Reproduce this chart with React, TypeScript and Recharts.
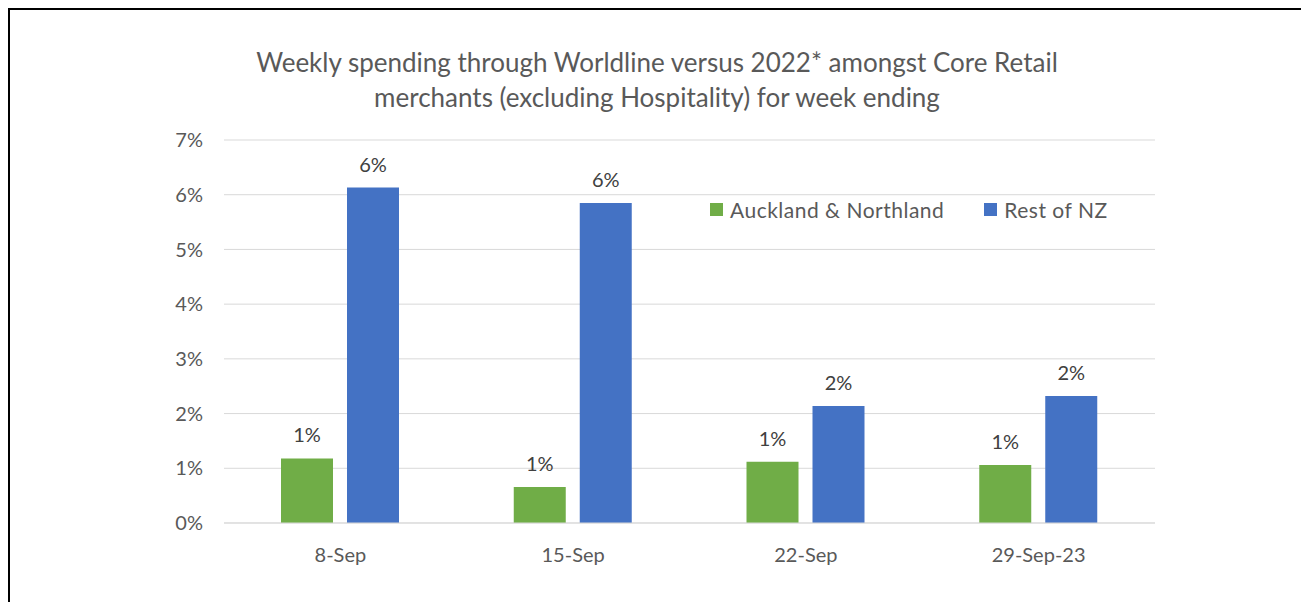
import { Bar, BarChart, CartesianGrid, LabelList, XAxis, YAxis } from 'recharts';

const weeks = ['8-Sep', '15-Sep', '22-Sep', '29-Sep-23'];
const auckland = [1.18, 0.66, 1.12, 1.06];
const restOfNz = [6.13, 5.85, 2.14, 2.32];
const yTicks = [0, 1, 2, 3, 4, 5, 6, 7];

const GREEN = '#70AD47';
const BLUE = '#4472C4';
const TEXT = '#595959';
const FONT = 'Lato, "Open Sans", sans-serif';

const data = weeks.map((w, i) => ({ week: w, auckland: auckland[i], rest: restOfNz[i] }));

const pct = (v: unknown) => `${Math.round(Number(v))}%`;

// legend sits inside the plot, so it is drawn outside recharts' layout
function LegendBox() {
  const items = [
    { name: 'Auckland & Northland', color: GREEN },
    { name: 'Rest of NZ', color: BLUE },
  ];
  return (
    <div
      style={{
        position: 'absolute',
        top: 187,
        left: 700,
        display: 'flex',
        gap: 40,
        fontFamily: FONT,
        fontSize: 21,
        letterSpacing: 0.5,
        color: TEXT,
      }}
    >
      {items.map((it) => (
        <div key={it.name} style={{ display: 'flex', alignItems: 'center', gap: 7 }}>
          <span style={{ width: 13, height: 13, background: it.color, display: 'inline-block' }} />
          <span>{it.name}</span>
        </div>
      ))}
    </div>
  );
}

export default function App() {
  return (
    <div
      style={{
        position: 'relative',
        width: 1296,
        height: 600,
        borderTop: '2px solid #000',
        borderLeft: '2px solid #000',
        borderRight: '2px solid #000',
        background: '#fff',
      }}
    >
      <div
        style={{
          position: 'absolute',
          top: 35,
          left: 0,
          width: 1296,
          textAlign: 'center',
          fontFamily: FONT,
          fontSize: 26,
          lineHeight: '35px',
          color: TEXT,
        }}
      >
        <div style={{ marginLeft: -2 }}>
          Weekly spending through Worldline versus 2022* amongst Core Retail
          <br />
          merchants (excluding Hospitality) for week ending
        </div>
      </div>
      <BarChart
        width={1296}
        height={590}
        data={data}
        margin={{ top: 130, right: 151, left: 0, bottom: 47 }}
        barGap={14}
        barSize={52}
      >
        <CartesianGrid stroke="#D9D9D9" vertical={false} />
        <XAxis
          dataKey="week"
          axisLine={{ stroke: '#D9D9D9' }}
          tickLine={false}
          tickSize={0}
          tickMargin={25}
          tick={{ fill: TEXT, fontSize: 20, fontFamily: FONT }}
        />
        <YAxis
          width={214}
          domain={[0, 7]}
          ticks={yTicks}
          tickFormatter={(v) => `${v}%`}
          axisLine={false}
          tickLine={false}
          tickSize={0}
          tickMargin={21}
          tick={{ fill: TEXT, fontSize: 20, fontFamily: FONT }}
        />
        <Bar dataKey="auckland" name="Auckland & Northland" fill={GREEN} isAnimationActive={false}>
          <LabelList
            dataKey="auckland"
            position="top"
            offset={16}
            formatter={pct}
            style={{ fill: '#404040', fontSize: 20, fontFamily: FONT }}
          />
        </Bar>
        <Bar dataKey="rest" name="Rest of NZ" fill={BLUE} isAnimationActive={false}>
          <LabelList
            dataKey="rest"
            position="top"
            offset={16}
            formatter={pct}
            style={{ fill: '#404040', fontSize: 20, fontFamily: FONT }}
          />
        </Bar>
      </BarChart>
      <LegendBox />
    </div>
  );
}
